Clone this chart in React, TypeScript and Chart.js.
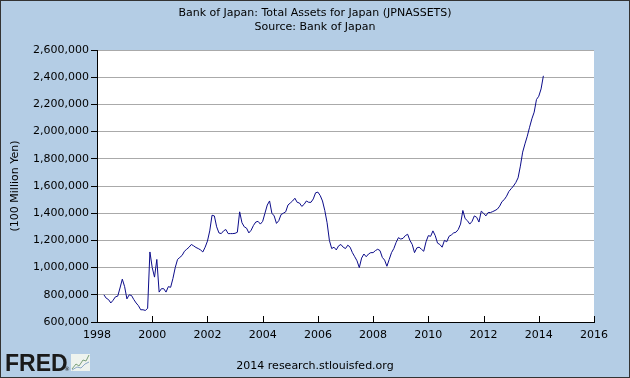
import React, { useEffect, useRef } from "react";
import { Chart, registerables } from "chart.js";
Chart.register(...registerables);

const TITLE = "Bank of Japan: Total Assets for Japan (JPNASSETS)";
const SUBTITLE = "Source: Bank of Japan";
const Y_LABEL = "(100 Million Yen)";
const FOOTER = "2014 research.stlouisfed.org";
const LOGO = "FRED";

// Monthly observations, first one is April 1998
const START_YEAR = 1998;
const START_MONTH = 4;

// Total assets (100 million yen), one row per calendar year
const assets1998 = [800000, 775000, 765000, 740000, 760000, 785000, 790000, 850000, 915000];
const assets1999 = [860000, 770000, 800000, 795000, 765000, 740000, 720000, 690000, 690000, 685000, 700000, 1115000];
const assets2000 = [1000000, 930000, 1060000, 820000, 845000, 845000, 820000, 860000, 855000, 920000, 1000000, 1060000];
const assets2001 = [1075000, 1090000, 1120000, 1135000, 1150000, 1170000, 1160000, 1148000, 1140000, 1130000, 1115000, 1150000];
const assets2002 = [1195000, 1270000, 1385000, 1380000, 1300000, 1255000, 1250000, 1270000, 1280000, 1250000, 1250000, 1250000];
const assets2003 = [1252000, 1260000, 1410000, 1330000, 1300000, 1290000, 1255000, 1275000, 1310000, 1335000, 1340000, 1320000];
const assets2004 = [1340000, 1400000, 1460000, 1490000, 1400000, 1380000, 1325000, 1345000, 1390000, 1400000, 1410000, 1460000];
const assets2005 = [1475000, 1490000, 1510000, 1480000, 1475000, 1450000, 1465000, 1490000, 1480000, 1480000, 1505000, 1550000];
const assets2006 = [1555000, 1530000, 1490000, 1420000, 1330000, 1200000, 1140000, 1150000, 1130000, 1160000, 1170000, 1150000];
const assets2007 = [1140000, 1165000, 1150000, 1110000, 1080000, 1050000, 1000000, 1070000, 1100000, 1080000, 1100000, 1110000];
const assets2008 = [1110000, 1125000, 1135000, 1125000, 1075000, 1055000, 1010000, 1060000, 1110000, 1140000, 1185000, 1220000];
const assets2009 = [1210000, 1215000, 1235000, 1245000, 1200000, 1170000, 1110000, 1145000, 1150000, 1135000, 1120000, 1190000];
const assets2010 = [1235000, 1230000, 1270000, 1235000, 1180000, 1170000, 1150000, 1200000, 1190000, 1230000, 1240000, 1255000];
const assets2011 = [1260000, 1280000, 1320000, 1420000, 1360000, 1345000, 1320000, 1340000, 1380000, 1370000, 1335000, 1415000];
const assets2012 = [1400000, 1380000, 1405000, 1405000, 1412000, 1420000, 1430000, 1452000, 1485000, 1500000, 1525000, 1560000];
const assets2013 = [1580000, 1600000, 1625000, 1660000, 1746000, 1849000, 1910000, 1966000, 2032000, 2094000, 2143000, 2236000];
const assets2014 = [2260000, 2314000, 2410000];

const assets = [
  ...assets1998, ...assets1999, ...assets2000, ...assets2001, ...assets2002, ...assets2003,
  ...assets2004, ...assets2005, ...assets2006, ...assets2007, ...assets2008, ...assets2009,
  ...assets2010, ...assets2011, ...assets2012, ...assets2013, ...assets2014,
];

const X_MIN = 1998;
const X_MAX = 2016;
const X_STEP = 2;
const Y_MIN = 600000;
const Y_MAX = 2600000;
const Y_STEP = 200000;

const FONT = "'DejaVu Sans', Verdana, sans-serif";

export default function App() {
  const ref = useRef<HTMLCanvasElement>(null);

  useEffect(() => {
    document.body.style.margin = "0";
    const canvas = ref.current;
    if (!canvas) return;

    const points = assets.map((v, i) => ({
      x: START_YEAR + (START_MONTH - 1 + i) / 12,
      y: v,
    }));

    const decor = {
      id: "decor",
      beforeDraw(chart: any) {
        const { ctx, width, height, chartArea } = chart;
        ctx.save();
        ctx.fillStyle = "#b4cde5";
        ctx.fillRect(0, 0, width, height);
        ctx.fillStyle = "#ffffff";
        ctx.fillRect(chartArea.left, chartArea.top, chartArea.right - chartArea.left, chartArea.bottom - chartArea.top);
        ctx.restore();
      },
      afterDraw(chart: any) {
        const { ctx, width, height, chartArea } = chart;
        const xs = chart.scales.x;
        ctx.save();
        // inward x ticks
        ctx.strokeStyle = "#000";
        ctx.lineWidth = 1;
        ctx.beginPath();
        xs.ticks.forEach((t: any) => {
          const px = Math.round(xs.getPixelForValue(t.value)) + 0.5;
          ctx.moveTo(px, chartArea.bottom);
          ctx.lineTo(px, chartArea.bottom - 6);
        });
        ctx.stroke();

        // titles
        ctx.fillStyle = "#000";
        ctx.textAlign = "center";
        ctx.textBaseline = "middle";
        ctx.font = `11px ${FONT}`;
        ctx.fillText(TITLE, width / 2, 13);
        ctx.fillText(SUBTITLE, width / 2, 27);
        ctx.fillText(FOOTER, width / 2, 366);

        // y axis label
        ctx.save();
        ctx.translate(15, (chartArea.top + chartArea.bottom) / 2);
        ctx.rotate(-Math.PI / 2);
        ctx.fillText(Y_LABEL, 0, 0);
        ctx.restore();

        // FRED logo
        ctx.textAlign = "left";
        ctx.textBaseline = "alphabetic";
        ctx.fillStyle = "#1a1a1a";
        ctx.font = `bold 23px 'Liberation Sans', Arial, sans-serif`;
        ctx.fillText(LOGO, 5, 371);
        ctx.font = `6px ${FONT}`;
        ctx.fillText("®", 64, 371);
        // small chart icon
        ctx.fillStyle = "#eef3ee";
        ctx.fillRect(71, 354, 19, 17);
        ctx.strokeStyle = "#7aa07a";
        ctx.beginPath();
        ctx.moveTo(72, 369);
        ctx.lineTo(76, 364);
        ctx.lineTo(79, 366);
        ctx.lineTo(83, 360);
        ctx.lineTo(86, 361);
        ctx.lineTo(89, 355);
        ctx.stroke();
        ctx.strokeStyle = "#8aa8c8";
        ctx.beginPath();
        ctx.moveTo(72, 370);
        ctx.lineTo(77, 367);
        ctx.lineTo(81, 368);
        ctx.lineTo(85, 364);
        ctx.lineTo(89, 362);
        ctx.stroke();

        // outer border
        ctx.strokeStyle = "#333";
        ctx.strokeRect(0.5, 0.5, width - 1, height - 1);
        ctx.restore();
      },
    };

    const chart = new Chart(canvas, {
      type: "line",
      data: {
        datasets: [
          {
            data: points,
            borderColor: "#0c0c8a",
            borderWidth: 1,
            pointRadius: 0,
            tension: 0,
            fill: false,
          },
        ],
      },
      options: {
        responsive: false,
        animation: false,
        events: [],
        layout: { padding: { top: 50, right: 36, left: 0, bottom: 0 } },
        plugins: {
          legend: { display: false },
          title: { display: false },
          tooltip: { enabled: false },
        },
        scales: {
          x: {
            type: "linear",
            min: X_MIN,
            max: X_MAX,
            ticks: {
              stepSize: X_STEP,
              color: "#000",
              font: { family: FONT, size: 11 },
              padding: 7,
              maxRotation: 0,
              callback: (v: any) => String(v),
            },
            grid: { display: true, drawOnChartArea: false, drawTicks: false },
            border: { display: true, color: "#000", width: 1 },
            afterFit: (s: any) => {
              s.height = 56;
            },
          },
          y: {
            min: Y_MIN,
            max: Y_MAX,
            ticks: {
              stepSize: Y_STEP,
              color: "#000",
              font: { family: FONT, size: 11 },
              padding: 2,
              callback: (v: any) => Number(v).toLocaleString("en-US"),
            },
            grid: { color: "#aaaaaa", tickColor: "#000", tickLength: 6, lineWidth: 1 },
            border: { display: true, color: "#000", width: 1 },
            afterFit: (s: any) => {
              s.width = 97;
            },
          },
        },
      },
      plugins: [decor],
    });

    return () => chart.destroy();
  }, []);

  return (
    <div style={{ position: "absolute", left: 0, top: 0, width: 630, height: 378 }}>
      <canvas ref={ref} width={630} height={378} style={{ display: "block" }} />
    </div>
  );
}
